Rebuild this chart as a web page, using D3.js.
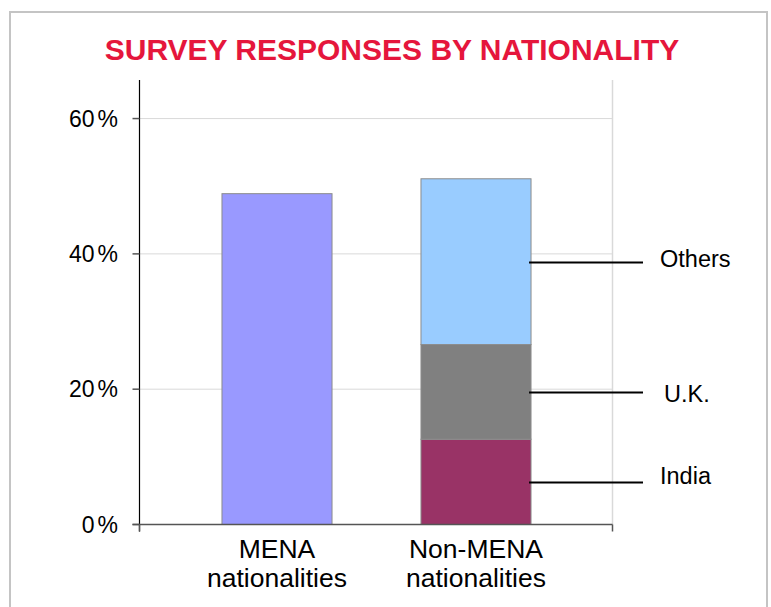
<!DOCTYPE html>
<html><head><meta charset="utf-8">
<script src="https://cdn.jsdelivr.net/npm/d3@7"></script>
<style>html,body{margin:0;padding:0;background:#fff;}svg{display:block;font-family:"Liberation Sans",Arial,sans-serif;}</style>
</head><body>
<script>
const categories = ["MENA nationalities", "Non-MENA nationalities"];
const categoryLines = [["MENA", "nationalities"], ["Non-MENA", "nationalities"]];
const segmentNames = ["India", "U.K.", "Others"];
const menaValues = [48.9];
const nonMenaValues = [12.6, 14.0, 24.5];
const yTicks = [0, 20, 40, 60];
const segmentColors = ["#993366", "#808080", "#99ccff"];
const menaColor = "#9999ff";
const labelOffsets = [2, 10, 5];

const W = 771, H = 607;
const svg = d3.select("body").append("svg").attr("width", W).attr("height", H);

// frame
svg.append("path").attr("d", `M10,${H+5} V12 H767 V${H+5}`)
  .attr("fill", "none").attr("stroke", "#c4c4c4").attr("stroke-width", 2);

svg.append("text").attr("x", 392).attr("y", 60).attr("text-anchor", "middle")
  .attr("font-size", 30).attr("font-weight", "bold").attr("fill", "#e5163c")
  .text("SURVEY RESPONSES BY NATIONALITY");

const x = d3.scaleBand().domain(categories).range([177.5, 575.5])
  .paddingInner(0.447).paddingOuter(0.2235);
const y = d3.scaleLinear().domain([0, 65.7]).range([524.5, 80]);
const left = 139.5, right = 612.5;

// gridlines
svg.append("g").selectAll("line").data(yTicks.filter(d => d > 0)).join("line")
  .attr("x1", left).attr("x2", right).attr("y1", d => y(d)).attr("y2", d => y(d))
  .attr("stroke", "#d9d9d9").attr("stroke-width", 1);
// right plot border
svg.append("line").attr("x1", right).attr("x2", right).attr("y1", y(65.7)).attr("y2", y(0))
  .attr("stroke", "#d9d9d9").attr("stroke-width", 1.5);

// MENA bar
svg.append("g").selectAll("rect").data(menaValues).join("rect")
  .attr("x", x(categories[0])).attr("width", x.bandwidth())
  .attr("y", d => y(d)).attr("height", d => y(0) - y(d))
  .attr("fill", menaColor).attr("stroke", "#8c8c8c").attr("stroke-width", 1);

// stacked Non-MENA bar
let cum = 0;
const segs = nonMenaValues.map((v, i) => { const s = {name: segmentNames[i], y0: cum, y1: cum + v, color: segmentColors[i], off: labelOffsets[i]}; cum += v; return s; });
svg.append("g").selectAll("rect").data(segs).join("rect")
  .attr("x", x(categories[1])).attr("width", x.bandwidth())
  .attr("y", d => y(d.y1)).attr("height", d => y(d.y0) - y(d.y1))
  .attr("fill", d => d.color).attr("stroke", "#8c8c8c").attr("stroke-width", 1);

// leader lines and labels
const barRight = x(categories[1]) + x.bandwidth();
svg.append("g").selectAll("line").data(segs).join("line")
  .attr("x1", barRight - 2).attr("x2", 643)
  .attr("y1", d => Math.round(y((d.y0 + d.y1) / 2)) + 0.5)
  .attr("y2", d => Math.round(y((d.y0 + d.y1) / 2)) + 0.5)
  .attr("stroke", "#000").attr("stroke-width", 2);
svg.append("g").selectAll("text").data(segs).join("text")
  .attr("x", d => d.name === "U.K." ? 664 : 660)
  .attr("y", d => y((d.y0 + d.y1) / 2) + d.off)
  .attr("font-size", 23.5).attr("fill", "#000")
  .text(d => d.name);

// y axis
const yAxis = svg.append("g");
yAxis.append("line").attr("x1", left).attr("x2", left).attr("y1", y(65.7)).attr("y2", y(0) + 7)
  .attr("stroke", "#000").attr("stroke-width", 1.2);
yAxis.selectAll("line.t").data(yTicks).join("line").attr("class", "t")
  .attr("x1", left - 7).attr("x2", left).attr("y1", d => y(d)).attr("y2", d => y(d))
  .attr("stroke", "#555").attr("stroke-width", 1.5);
const tl = yAxis.selectAll("text").data(yTicks).join("text")
  .attr("x", 118).attr("y", d => y(d) + 8).attr("text-anchor", "end")
  .attr("font-size", 23).attr("fill", "#000");
tl.append("tspan").text(d => String(d));
tl.append("tspan").attr("dx", 3).text("%");

// x axis
svg.append("line").attr("x1", left - 7).attr("x2", right).attr("y1", y(0)).attr("y2", y(0))
  .attr("stroke", "#555").attr("stroke-width", 1.5);
svg.append("g").selectAll("line").data([left, right]).join("line")
  .attr("x1", d => d).attr("x2", d => d).attr("y1", y(0)).attr("y2", y(0) + 7)
  .attr("stroke", "#555").attr("stroke-width", 1.5);

const cl = svg.append("g").selectAll("text").data(categories).join("text")
  .attr("x", d => x(d) + x.bandwidth() / 2).attr("text-anchor", "middle")
  .attr("font-size", 26.5).attr("fill", "#000");
cl.selectAll("tspan").data((d, i) => categoryLines[i].map((t, j) => ({t, j}))).join("tspan")
  .attr("x", function() { return d3.select(this.parentNode).attr("x"); })
  .attr("y", d => 558 + d.j * 29).text(d => d.t);
</script>
</body></html>
